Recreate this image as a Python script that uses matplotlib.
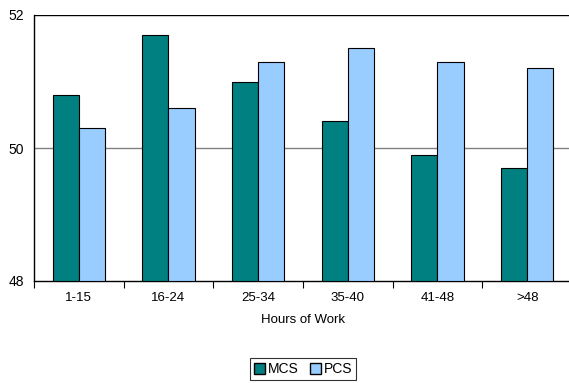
import matplotlib
matplotlib.use("Agg")
import matplotlib.pyplot as plt
import numpy as np
from matplotlib.patches import Patch

categories = ["1-15", "16-24", "25-34", "35-40", "41-48", ">48"]
mcs = [50.8, 51.7, 51.0, 50.4, 49.9, 49.7]
pcs = [50.3, 50.6, 51.3, 51.5, 51.3, 51.2]
y_ticks = [48, 50, 52]

plt.rcParams["font.family"] = ["Liberation Sans", "DejaVu Sans"]

fig = plt.figure(figsize=(5.69, 3.83), dpi=100)
ax = fig.add_axes([34 / 569, 102 / 383, 538 / 569, 266 / 383])

x = np.arange(len(categories))
w = 0.29
ax.bar(x - w / 2, np.array(mcs) - 48, w, bottom=48, color="#008080",
       edgecolor="black", linewidth=0.8, zorder=3)
ax.bar(x + w / 2, np.array(pcs) - 48, w, bottom=48, color="#99CCFF",
       edgecolor="black", linewidth=0.8, zorder=3)

ax.set_xlim(-0.5, len(categories) - 0.5)
ax.set_ylim(48, 52)
ax.set_yticks(y_ticks)
ax.set_yticklabels([str(t) for t in y_ticks], fontsize=10)
ax.axhline(50, color="#808080", linewidth=1, zorder=1)
ax.axhline(52, color="black", linewidth=1, zorder=1)

ax.set_xticks(x)
ax.set_xticklabels(categories, fontsize=9.5)
ax.set_xticks(np.arange(-0.5, len(categories)), minor=True)
ax.tick_params(axis="x", which="major", length=0, pad=8)
ax.tick_params(axis="x", which="minor", length=5, width=0.8, direction="out")
ax.tick_params(axis="y", length=0, pad=7)

for side in ["top", "right"]:
    ax.spines[side].set_visible(False)
ax.spines["left"].set_linewidth(1)
ax.spines["bottom"].set_linewidth(1)

ax.set_xlabel("Hours of Work", fontsize=9.5, labelpad=7)

handles = [Patch(facecolor="#008080", edgecolor="black", label="MCS"),
           Patch(facecolor="#99CCFF", edgecolor="black", label="PCS")]
leg = fig.legend(handles=handles, loc="upper center", ncol=2,
                 bbox_to_anchor=(303 / 569, 1 - 358 / 383), fontsize=10,
                 frameon=True, fancybox=False, handlelength=0.8,
                 handleheight=0.8, handletextpad=0.2, columnspacing=0.8,
                 borderpad=0.3, borderaxespad=0)
leg.get_frame().set_edgecolor("black")
leg.get_frame().set_linewidth(0.8)

fig.savefig("out.png", dpi=100)
